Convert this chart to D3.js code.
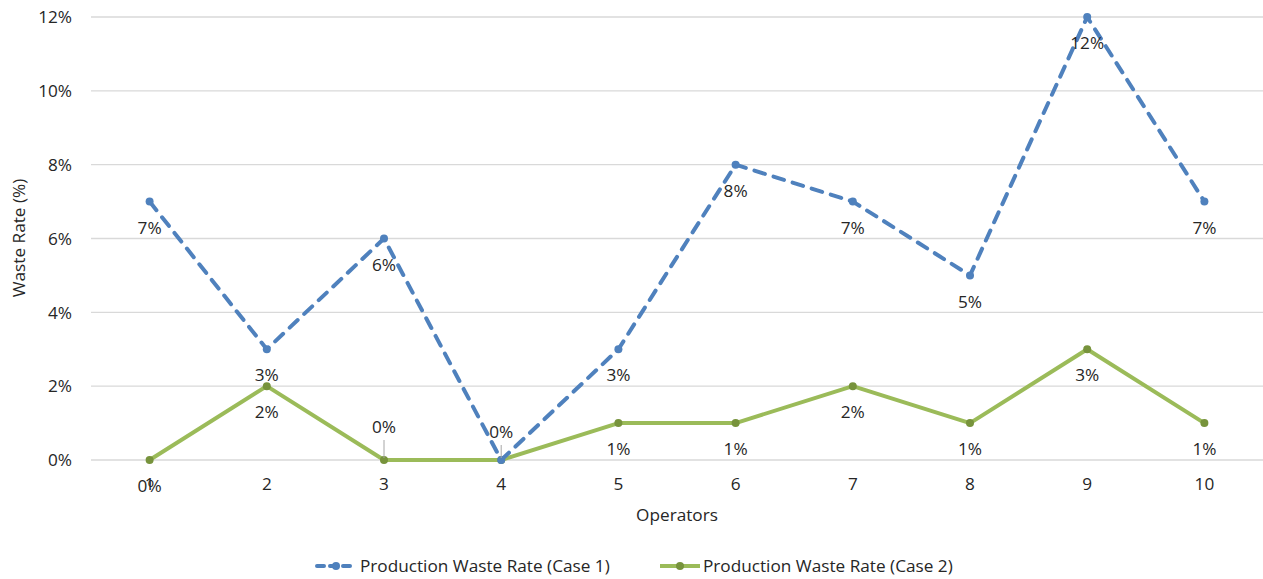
<!DOCTYPE html>
<html><head><meta charset="utf-8">
<script src="https://cdn.jsdelivr.net/npm/d3@7/dist/d3.min.js"></script>
<style>body{margin:0;background:#fff}svg{display:block}text{font-family:"Open Sans",Lato,sans-serif;fill:#262626}</style>
</head><body><svg id="c" width="1263" height="579"></svg>
<script>
const categories = ["1","2","3","4","5","6","7","8","9","10"];
const case1 = [7,3,6,0,3,8,7,5,12,7];
const case2 = [0,2,0,0,1,1,2,1,3,1];
const yTicks = [0,2,4,6,8,10,12];
const seriesNames = ["Production Waste Rate (Case 1)","Production Waste Rate (Case 2)"];
// label placement: "below" default, "above" with leader line, null to skip
const case1Pos = ["below","below","below","above","below","below","below","below","below","below"];
const case2Pos = ["below","below","above",null,"below","below","below","below","below","below"];

const svg = d3.select("#c");
const m = {l:91, r:1263, t:17, b:460};
const x = d3.scaleBand().domain(categories).range([m.l, m.r]);
const y = d3.scaleLinear().domain([0,12]).range([m.b, m.t]);
const cx = d => x(d) + x.bandwidth()/2;
const FS = 17.2;

// grid
svg.append("g").selectAll("line").data(yTicks).join("line")
  .attr("x1", m.l).attr("x2", m.r).attr("y1", d=>y(d)).attr("y2", d=>y(d))
  .attr("stroke", "#d9d9d9").attr("stroke-width", 1.3);
// y labels
svg.append("g").selectAll("text").data(yTicks).join("text")
  .attr("x", 72).attr("y", d=>y(d)).attr("dy","0.36em").attr("text-anchor","end")
  .attr("font-size", FS).text(d=>d+"%");
// x labels
svg.append("g").selectAll("text").data(categories).join("text")
  .attr("x", d=>cx(d)).attr("y", 484).attr("dy","0.36em").attr("text-anchor","middle")
  .attr("font-size", FS).text(d=>d);
// axis titles
svg.append("text").attr("x", 677).attr("y", 515).attr("dy","0.36em").attr("text-anchor","middle")
  .attr("font-size", FS).text("Operators");
svg.append("text").attr("transform", "translate(19,238) rotate(-90)").attr("dy","0.36em")
  .attr("text-anchor","middle").attr("font-size", FS).text("Waste Rate (%)");

const line = d3.line().x((d,i)=>cx(categories[i])).y(d=>y(d));
const c1 = "#4f81bd", c2 = "#9bbb59", c2m = "#77933c";

// case 2 line
svg.append("path").datum(case2).attr("d", line).attr("fill","none")
  .attr("stroke", c2).attr("stroke-width", 4).attr("stroke-linejoin","round");
svg.append("g").selectAll("circle").data(case2).join("circle")
  .attr("cx",(d,i)=>cx(categories[i])).attr("cy", d=>y(d)).attr("r", 4).attr("fill", c2m);
// case 1 line
svg.append("path").datum(case1).attr("d", line).attr("fill","none")
  .attr("stroke", c1).attr("stroke-width", 4).attr("stroke-dasharray","11,9")
  .attr("stroke-linecap","round").attr("stroke-linejoin","round");
svg.append("g").selectAll("circle").data(case1).join("circle")
  .attr("cx",(d,i)=>cx(categories[i])).attr("cy", d=>y(d)).attr("r", 4).attr("fill", c1);

// labels
function labels(vals, pos, aboveOff){
  const g = svg.append("g");
  vals.forEach((v,i)=>{
    const p = pos[i]; if(!p) return;
    const px = cx(categories[i]), py = y(v);
    if(p==="below"){
      g.append("text").attr("x",px).attr("y",py+26).attr("dy","0.36em").attr("text-anchor","middle")
        .attr("font-size",FS).text(v+"%");
    } else {
      g.append("line").attr("x1",px).attr("x2",px).attr("y1",py-aboveOff+13).attr("y2",py-2)
        .attr("stroke","#a6a6a6").attr("stroke-width",1);
      g.append("text").attr("x",px).attr("y",py-aboveOff).attr("dy","0.36em").attr("text-anchor","middle")
        .attr("font-size",FS).text(v+"%");
    }
  });
}
labels(case2, case2Pos, 33);
labels(case1, case1Pos, 28);

// legend
const lg = svg.append("g");
lg.append("line").attr("x1",317).attr("x2",355).attr("y1",566).attr("y2",566)
  .attr("stroke",c1).attr("stroke-width",4).attr("stroke-dasharray","7,6").attr("stroke-linecap","round");
lg.append("circle").attr("cx",336).attr("cy",566).attr("r",4).attr("fill",c1);
lg.append("text").attr("x",360).attr("y",566).attr("dy","0.36em").attr("font-size",FS).text(seriesNames[0]);
lg.append("line").attr("x1",660).attr("x2",700).attr("y1",566).attr("y2",566)
  .attr("stroke",c2).attr("stroke-width",4);
lg.append("circle").attr("cx",680).attr("cy",566).attr("r",4).attr("fill",c2m);
lg.append("text").attr("x",703).attr("y",566).attr("dy","0.36em").attr("font-size",FS).text(seriesNames[1]);
</script></body></html>
